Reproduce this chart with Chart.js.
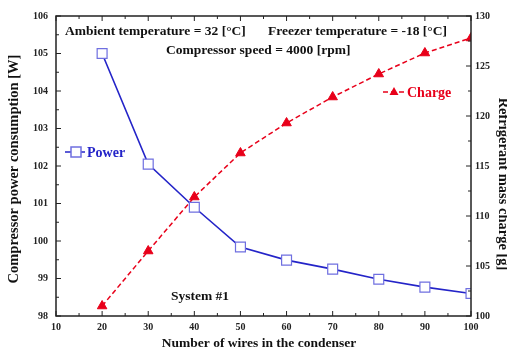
<!DOCTYPE html>
<html>
<head>
<meta charset="utf-8">
<script src="https://cdn.jsdelivr.net/npm/chart.js@4"></script>
<style>
  html, body { margin: 0; padding: 0; background: #fff; }
  #wrap { width: 507px; height: 354px; }
</style>
</head>
<body>
<div id="wrap"><canvas id="chart" width="507" height="354"></canvas></div>
<script>
// wires in the condenser
const wires = [20, 30, 40, 50, 60, 70, 80, 90, 100];
// compressor power [W]
const power = [105.0, 102.05, 100.9, 99.84, 99.49, 99.25, 98.98, 98.77, 98.6];
// refrigerant charge [g]
const charge = [101.0, 106.5, 111.9, 116.3, 119.3, 121.9, 124.2, 126.3, 127.8];

const notes = [
    { text: "Ambient temperature = 32 [°C]", x: 65, y: 32 },
    { text: "Freezer temperature = -18 [°C]", x: 268, y: 32 },
    { text: "Compressor speed = 4000 [rpm]", x: 166, y: 51 },
    { text: "System #1", x: 171, y: 297 }
];

const serif = "'Liberation Serif', 'Times New Roman', serif";
const blue = "#2424c8";
const red = "#e8001a";

// ticks drawn inward on all four sides, plus titles, notes and legend
const framePlugin = {
    id: "frame",
    afterDraw(chart) {
        const ctx = chart.ctx;
        const a = chart.chartArea;
        const sx = chart.scales.x, sy = chart.scales.y, sy1 = chart.scales.y1;
        ctx.save();
        ctx.strokeStyle = "#222";
        ctx.lineWidth = 1.5;
        ctx.strokeRect(a.left, a.top, a.right - a.left, a.bottom - a.top);

        ctx.lineWidth = 1;
        for (let v = 10; v <= 100; v += 5) {
            const px = sx.getPixelForValue(v);
            const len = v % 10 === 0 ? 5 : 3;
            ctx.beginPath();
            ctx.moveTo(px, a.bottom); ctx.lineTo(px, a.bottom - len);
            ctx.moveTo(px, a.top); ctx.lineTo(px, a.top + len);
            ctx.stroke();
        }
        for (let v = 98; v <= 106; v += 0.5) {
            const py = sy.getPixelForValue(v);
            const len = v % 1 === 0 ? 5 : 3;
            ctx.beginPath();
            ctx.moveTo(a.left, py); ctx.lineTo(a.left + len, py);
            ctx.stroke();
        }
        for (let v = 100; v <= 130; v += 2.5) {
            const py = sy1.getPixelForValue(v);
            const len = v % 5 === 0 ? 5 : 3;
            ctx.beginPath();
            ctx.moveTo(a.right, py); ctx.lineTo(a.right - len, py);
            ctx.stroke();
        }

        // axis titles
        ctx.fillStyle = "#111";
        ctx.textAlign = "center";
        ctx.textBaseline = "middle";
        ctx.font = "bold 13.5px " + serif;
        ctx.fillText("Number of wires in the condenser", 259, 344);
        ctx.font = "bold 14.5px " + serif;
        ctx.save();
        ctx.translate(14, 169);
        ctx.rotate(-Math.PI / 2);
        ctx.fillText("Compressor power consumption [W]", 0, 0);
        ctx.restore();
        ctx.save();
        ctx.translate(503, 184);
        ctx.rotate(Math.PI / 2);
        ctx.fillText("Refrigerant mass charge [g]", 0, 0);
        ctx.restore();

        // notes inside the plot
        ctx.textAlign = "left";
        ctx.font = "bold 13.5px " + serif;
        notes.forEach(n => ctx.fillText(n.text, n.x, n.y));

        // legend entries
        ctx.font = "bold 14px " + serif;
        ctx.lineWidth = 1.5;
        ctx.strokeStyle = blue;
        ctx.beginPath(); ctx.moveTo(65, 152); ctx.lineTo(85, 152); ctx.stroke();
        ctx.fillStyle = "#fff";
        ctx.strokeStyle = "#6f6fe0";
        ctx.fillRect(71, 147, 10, 10);
        ctx.strokeRect(71, 147, 10, 10);
        ctx.fillStyle = blue;
        ctx.fillText("Power", 87, 153);

        ctx.strokeStyle = red;
        ctx.setLineDash([5, 3]);
        ctx.beginPath(); ctx.moveTo(383, 92); ctx.lineTo(404, 92); ctx.stroke();
        ctx.setLineDash([]);
        ctx.fillStyle = red;
        ctx.beginPath();
        ctx.moveTo(394, 87); ctx.lineTo(398.5, 95); ctx.lineTo(389.5, 95);
        ctx.closePath(); ctx.fill();
        ctx.fillText("Charge", 407, 93);
        ctx.restore();
    }
};

const tickFont = { family: serif, weight: "bold", size: 10 };

new Chart(document.getElementById("chart"), {
    type: "line",
    data: {
        datasets: [
            {
                label: "Power",
                data: wires.map((w, i) => ({ x: w, y: power[i] })),
                yAxisID: "y",
                borderColor: blue,
                borderWidth: 1.6,
                pointStyle: "rect",
                pointRadius: 7,
                pointBackgroundColor: "#fff",
                pointBorderColor: "#6f6fe0",
                pointBorderWidth: 1.2,
                tension: 0
            },
            {
                label: "Charge",
                data: wires.map((w, i) => ({ x: w, y: charge[i] })),
                yAxisID: "y1",
                borderColor: red,
                borderWidth: 1.5,
                borderDash: [5, 3],
                pointStyle: "triangle",
                pointRadius: 5.5,
                pointBackgroundColor: red,
                pointBorderColor: red,
                pointBorderWidth: 1,
                tension: 0
            }
        ]
    },
    options: {
        responsive: false,
        animation: false,
        layout: { padding: { top: 16, left: 0, right: 0, bottom: 0 } },
        plugins: { legend: { display: false }, tooltip: { enabled: false } },
        scales: {
            x: {
                type: "linear",
                min: 10, max: 100,
                grid: { display: false, drawTicks: false },
                border: { display: false },
                ticks: { stepSize: 10, padding: 5, color: "#222", font: tickFont },
                afterFit: s => { s.height = 38; }
            },
            y: {
                position: "left",
                min: 98, max: 106,
                grid: { display: false, drawTicks: false },
                border: { display: false },
                ticks: { stepSize: 1, padding: 8, color: "#222", font: tickFont },
                afterFit: s => { s.width = 56; }
            },
            y1: {
                position: "right",
                min: 100, max: 130,
                grid: { display: false, drawTicks: false },
                border: { display: false },
                ticks: { stepSize: 5, padding: 4, color: "#222", font: tickFont },
                afterFit: s => { s.width = 36; }
            }
        }
    },
    plugins: [framePlugin]
});
</script>
</body>
</html>
